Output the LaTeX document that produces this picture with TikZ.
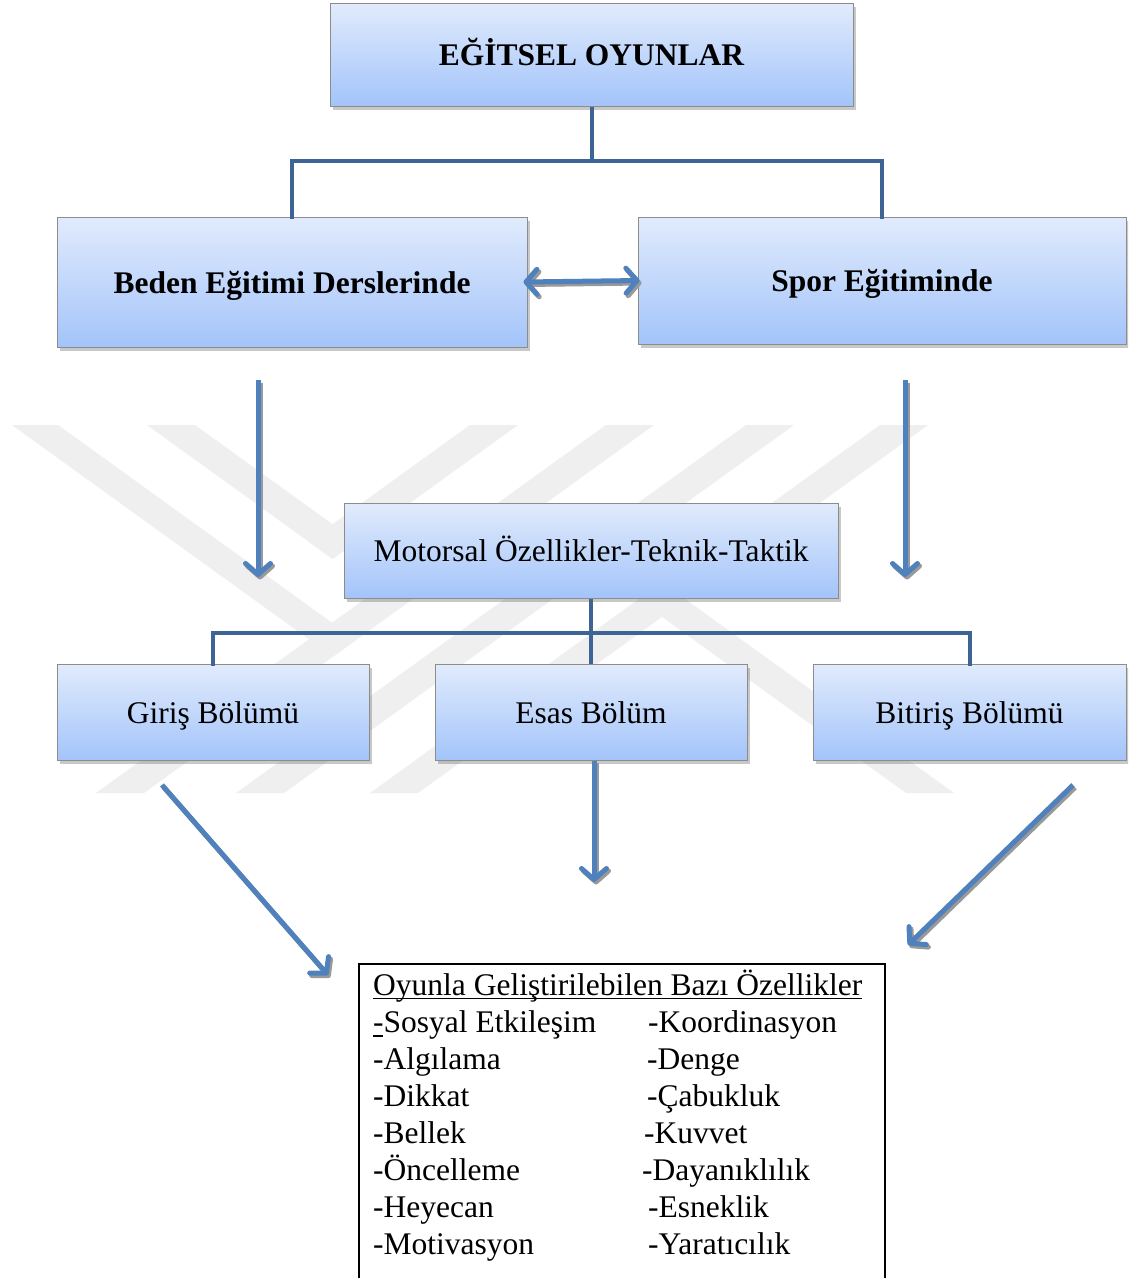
\documentclass[tikz,border=0pt]{standalone}
\usepackage{fontspec}
\setmainfont{Liberation Serif}
\usetikzlibrary{arrows.meta,shadows,calc}
\definecolor{boxtop}{RGB}{225,235,252}
\definecolor{boxbot}{RGB}{163,196,250}
\definecolor{boxedge}{RGB}{140,140,140}
\definecolor{connc}{RGB}{62,100,150}
\definecolor{arrc}{RGB}{79,129,189}
\definecolor{wmc}{RGB}{239,239,239}
\newcommand\dgfont{\fontsize{31.5}{37.5}\selectfont}
\tikzset{
  gbox/.style={draw=boxedge, line width=1pt, top color=boxtop, bottom color=boxbot,
    drop shadow={shadow xshift=3pt, shadow yshift=-4pt, opacity=0.3, fill=black!70},
    font=\dgfont, inner sep=0pt, text height=24pt, text depth=2pt},
  conn/.style={draw=connc, line width=4pt},
  barb/.tip={Straight Barb[length=11pt,width=25pt,line cap=round,line join=round]},
  arrline/.style={draw=arrc, line width=5pt, -barb},
  arrshadow/.style={draw=black!40, line width=5pt, -barb, transform canvas={xshift=2pt,yshift=-2.5pt}},
  dblline/.style={draw=arrc, line width=5pt, barb-barb},
  dblshadow/.style={draw=black!40, line width=5pt, barb-barb, transform canvas={xshift=2pt,yshift=-2.5pt}},
  ltxt/.style={font=\dgfont, inner sep=0pt, anchor=base west},
}
\begin{document}
\begin{tikzpicture}[x=1pt,y=-1pt]
\clip (0,0) rectangle (1128,1278);
\fill[white] (0,0) rectangle (1128,1278);
% watermark
\begin{scope}
  \clip (0,425) rectangle (1128,793);
  \fill[wmc] (96,793) -- (144,793) -- (654,425) -- (606,425) -- cycle;
  \fill[wmc] (236,793) -- (284,793) -- (794,425) -- (746,425) -- cycle;
  \fill[wmc] (370,793) -- (418,793) -- (928,425) -- (880,425) -- cycle;
  \begin{scope}
    \clip (0,425) -- (654,425) -- (144,793) -- (0,793) -- cycle;
    \fill[wmc] (12,425) -- (58,425) -- (568,793) -- (522,793) -- cycle;
  \end{scope}
  \begin{scope}
    \clip (0,425) -- (518,425) -- (8,793) -- (0,793) -- cycle;
    \fill[wmc] (147,425) -- (195,425) -- (705,793) -- (657,793) -- cycle;
  \end{scope}
  \begin{scope}
    \clip (147,425) -- (1128,425) -- (1128,793) -- (657,793) -- cycle;
    \fill[wmc] (470,425) -- (518,425) -- (8,793) -- (-40,793) -- cycle;
  \end{scope}
  \begin{scope}
    \clip (880,425) -- (1128,425) -- (1128,793) -- (370,793) -- cycle;
    \fill[wmc] (396,425) -- (444,425) -- (954,793) -- (906,793) -- cycle;
  \end{scope}
\end{scope}

% boxes
\node[gbox, minimum width=523pt, minimum height=103pt] (top) at (591.5,54.5) {\bfseries EĞİTSEL OYUNLAR};
\node[gbox, minimum width=470pt, minimum height=130pt] (beden) at (292,282) {\bfseries Beden Eğitimi Derslerinde};
\node[gbox, minimum width=488pt, minimum height=127pt] (spor) at (882,280.5) {\bfseries Spor Eğitiminde};
\node[gbox, minimum width=494pt, minimum height=95pt] (motor) at (591,550.5) {Motorsal Özellikler-Teknik-Taktik};
\node[gbox, minimum width=312pt, minimum height=96pt] (giris) at (213,712) {Giriş Bölümü};
\node[gbox, minimum width=312pt, minimum height=96pt] (esas) at (591,712) {Esas Bölüm};
\node[gbox, minimum width=313pt, minimum height=96pt] (bitis) at (969.5,712) {Bitiriş Bölümü};

% tree connectors
\draw[conn] (top.south) -- ++(0,54) coordinate (j1);
\draw[conn, line cap=rect] (j1) -| (beden.north);
\draw[conn, line cap=rect] (j1) -| (spor.north);
\draw[conn] (motor.south) -- ++(0,34) coordinate (j2);
\draw[conn, line cap=rect] (j2) -| (giris.north);
\draw[conn, line cap=rect] (j2) -| (bitis.north);
\draw[conn] (j2) -- (esas.north);

% double arrow
\coordinate (d1) at ($(beden.east)+(-4,0)$);
\coordinate (d2) at ($(spor.west)+(2,0)$);
\draw[dblshadow] (d1) -- (d2);
\draw[dblline] (d1) -- (d2);

% free arrows
\coordinate (la1) at (258,380); \coordinate (la2) at (258,577);
\coordinate (ra1) at (905,380); \coordinate (ra2) at (905,577);
\coordinate (ea2) at (594,882);
\coordinate (da1) at (162,785); \coordinate (da2) at (328,975);
\coordinate (db1) at (1073,785); \coordinate (db2) at (908,945);
\coordinate (es) at ($(esas.south)+(3,0)$);
\foreach \a/\b in {la1/la2, ra1/ra2, es/ea2, da1/da2, db1/db2}{
  \draw[arrshadow] (\a) -- (\b);
  \draw[arrline] (\a) -- (\b);
}

% list box
\node[draw, line width=2pt, minimum width=526pt, minimum height=400pt, anchor=north west, inner sep=0pt] (list) at (358,963) {};
\node[ltxt] (hd) at (373,995) {Oyunla Geliştirilebilen Bazı Özellikler};
\draw[line width=1.6pt] ([yshift=-3.5pt]hd.base west) -- ([yshift=-3.5pt]hd.base east);
\node[ltxt] (a1) at (373,1032.5) {-Sosyal Etkileşim};
\draw[line width=1.6pt] ([yshift=-3.5pt]a1.base west) -- ++(10,0);
\node[ltxt] (a2) at (373,1069.5) {-Algılama};
\node[ltxt] (a3) at (373,1106.5) {-Dikkat};
\node[ltxt] (a4) at (373,1143.5) {-Bellek};
\node[ltxt] (a5) at (373,1180.5) {-Öncelleme};
\node[ltxt] (a6) at (373,1217.5) {-Heyecan};
\node[ltxt] (a7) at (373,1254.5) {-Motivasyon};
\node[ltxt] (b1) at (648,1032.5) {-Koordinasyon};
\node[ltxt] (b2) at (647,1069.5) {-Denge};
\node[ltxt] (b3) at (647,1106.5) {-Çabukluk};
\node[ltxt] (b4) at (644,1143.5) {-Kuvvet};
\node[ltxt] (b5) at (642,1180.5) {-Dayanıklılık};
\node[ltxt] (b6) at (648,1217.5) {-Esneklik};
\node[ltxt] (b7) at (648,1254.5) {-Yaratıcılık};
\end{tikzpicture}
\end{document}
